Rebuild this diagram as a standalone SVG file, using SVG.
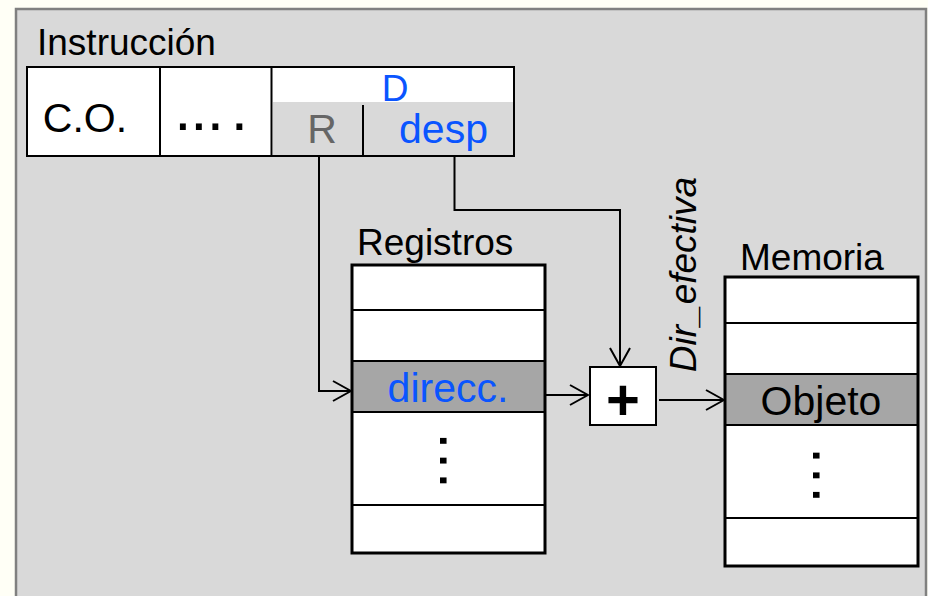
<svg xmlns="http://www.w3.org/2000/svg" width="928" height="596" viewBox="0 0 928 596">
  <style>
    text { font-family: "Liberation Sans", Arial, sans-serif; fill: #000; }
    .lbl { font-size: 37px; }
    .big { font-size: 41px; }
    .blue { fill: #0a55ff; }
    .grey { fill: #666666; }
    .dots { font-size: 62px; }
    .cell { fill: #ffffff; stroke: #000; stroke-width: 2; }
    .hl { fill: #a6a6a6; stroke: #000; stroke-width: 2; }
    .frame { fill: none; stroke: #000; stroke-width: 3; }
    .wire { fill: none; stroke: #000; stroke-width: 2; }
  </style>
  <defs>
    <marker id="arrow" viewBox="0 0 20 24" refX="19" refY="12" markerWidth="20" markerHeight="24" markerUnits="userSpaceOnUse" orient="auto">
      <path d="M1,2 L19,12 L1,22" fill="none" stroke="#000" stroke-width="2"/>
    </marker>
  </defs>

  <!-- page and panel -->
  <rect x="0" y="0" width="928" height="596" fill="#fffff6"/>
  <rect x="16" y="9" width="910" height="600" fill="#d9d9d9" stroke="#808080" stroke-width="2.5"/>

  <!-- instruction word -->
  <g id="instruccion">
    <text class="lbl" x="37" y="55">Instrucción</text>
    <rect x="27" y="67" width="487" height="89" fill="#ffffff" stroke="#000" stroke-width="2"/>
    <rect x="273" y="102" width="240" height="53" fill="#d9d9d9"/>
    <line x1="160" y1="67" x2="160" y2="156" stroke="#000" stroke-width="2"/>
    <line x1="271.5" y1="67" x2="271.5" y2="156" stroke="#000" stroke-width="2"/>
    <line x1="363" y1="105" x2="363" y2="156" stroke="#000" stroke-width="2"/>
    <text class="big" x="85" y="132" text-anchor="middle">C.O.</text>
    <text class="dots" x="174.3 190.3 206.8 230.8" y="130">....</text>
    <text class="blue" x="395" y="101" text-anchor="middle" style="font-size:37px">D</text>
    <text class="big grey" x="322" y="143" text-anchor="middle">R</text>
    <text class="big blue" x="443.5" y="143" text-anchor="middle">desp</text>
  </g>

  <!-- register file -->
  <g id="registros">
    <text class="lbl" x="357" y="255">Registros</text>
    <rect class="cell" x="352" y="265" width="193" height="45"/>
    <rect class="cell" x="352" y="310" width="193" height="51"/>
    <rect class="hl" x="352" y="361" width="193" height="51"/>
    <rect class="cell" x="352" y="412" width="193" height="93"/>
    <rect class="cell" x="352" y="505" width="193" height="48"/>
    <rect class="frame" x="352" y="265" width="193" height="288"/>
    <text class="big blue" x="448" y="402" text-anchor="middle">direcc.</text>
    <text class="dots" x="439.5" y="432.3" letter-spacing="2.46" transform="rotate(90 439.5 432.3)">...</text>
  </g>

  <!-- adder -->
  <g id="sumador">
    <rect x="590" y="367" width="66" height="58" fill="#ffffff" stroke="#000" stroke-width="2"/>
    <text x="623" y="420" text-anchor="middle" style="font-size:58px;font-weight:bold">+</text>
  </g>

  <!-- memory -->
  <g id="memoria">
    <text class="lbl" x="740" y="270">Memoria</text>
    <rect class="cell" x="725" y="277" width="193" height="46"/>
    <rect class="cell" x="725" y="323" width="193" height="51"/>
    <rect class="hl" x="725" y="374" width="193" height="51"/>
    <rect class="cell" x="725" y="425" width="193" height="93"/>
    <rect class="cell" x="725" y="518" width="193" height="48"/>
    <rect class="frame" x="725" y="277" width="193" height="289"/>
    <text class="big" x="821" y="415" text-anchor="middle">Objeto</text>
    <text class="dots" x="812.5" y="447" letter-spacing="2.46" transform="rotate(90 812.5 447)">...</text>
  </g>

  <!-- connectors -->
  <g id="conectores">
    <polyline class="wire" points="319,156 319,391 351,391" marker-end="url(#arrow)"/>
    <polyline class="wire" points="454.5,156 454.5,210 620,210 620,366" marker-end="url(#arrow)"/>
    <line class="wire" x1="545" y1="395" x2="588" y2="395" marker-end="url(#arrow)"/>
    <line class="wire" x1="659" y1="400" x2="724" y2="400" marker-end="url(#arrow)"/>
    <text x="696" y="274.5" text-anchor="middle" transform="rotate(-90 696 274.5)" style="font-size:37px;font-style:italic">Dir_efectiva</text>
  </g>
</svg>
